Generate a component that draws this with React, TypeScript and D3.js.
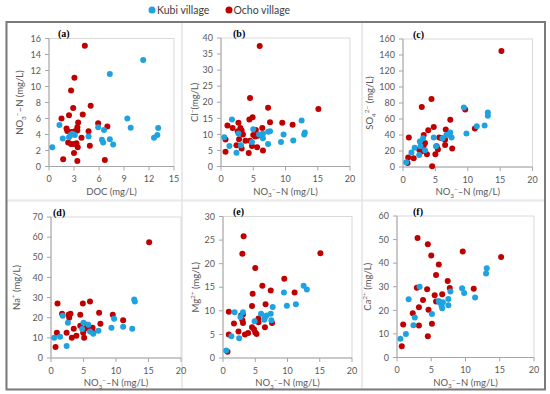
import React from "react";
import * as d3 from "d3";

// colours of the two villages
const BLUE = "#1fa3e0";
const RED = "#c00000";
const GREY = "#595959";

// (a) DOC vs NO3-N
const kubiA = [[0.4,2.4],[1.25,5.2],[1.65,3.5],[2.4,3.65],[2.6,3.95],[2.8,4.1],[3.1,3.95],[4.75,3.75],[5.9,4.9],[6.35,3.35],[6.5,3.0],[6.6,4.55],[7.3,3.4],[7.3,11.55],[7.7,2.75],[9.4,6.0],[9.8,4.85],[11.3,13.3],[12.6,3.6],[13.0,3.95],[13.1,4.8]];
const ochoA = [[4.3,15.1],[3.05,11.1],[2.65,9.5],[2.9,7.3],[5.0,7.6],[4.05,6.5],[2.4,6.4],[1.5,6.0],[3.5,5.5],[5.9,5.4],[7.0,5.0],[2.1,4.75],[3.4,4.9],[2.2,4.45],[2.7,4.3],[3.1,4.4],[3.4,4.5],[4.75,4.4],[3.9,3.6],[2.3,3.0],[2.65,2.8],[3.0,2.8],[3.3,2.9],[3.45,2.4],[4.9,2.6],[3.0,1.7],[1.7,0.9],[3.4,0.7],[6.7,0.8]];

// (b) NO3-N vs Cl-
const kubiB = [[0.5,9.1],[1.7,14.6],[1.3,6.4],[2.4,4.3],[3.1,6.6],[2.7,10.3],[5.0,11.6],[5.9,10.0],[6.3,9.9],[6.5,8.8],[6.5,10.2],[7.3,10.8],[7.6,11.0],[7.3,7.0],[9.3,7.6],[9.7,10.0],[11.2,8.1],[12.5,14.3],[12.9,10.0],[13.0,10.6],[4.8,7.6]];
const ochoB = [[6.0,37.5],[4.5,21.3],[7.3,18.3],[15.1,17.9],[4.4,14.6],[4.9,15.3],[7.6,13.8],[9.5,13.6],[11.1,13.0],[1.0,12.8],[1.8,12.0],[2.7,13.6],[3.0,12.0],[2.6,11.0],[3.2,11.2],[3.4,10.0],[5.4,11.4],[6.4,12.0],[0.7,8.4],[2.8,8.5],[3.8,8.0],[4.5,8.0],[5.0,9.8],[5.3,9.3],[5.7,9.6],[2.4,6.6],[3.2,5.6],[4.8,6.4],[5.6,6.0],[6.5,5.0],[0.7,4.6],[4.3,4.2]];

// (c) NO3-N vs SO4 2-
const kubiC = [[0.5,6],[1.3,18],[1.8,24],[2.5,15],[2.7,26],[2.6,32],[3.1,36],[3.4,21],[4.75,37],[5.1,26],[6.1,36],[6.7,40],[7.3,43],[7.2,40],[7.5,37],[9.4,74.5],[9.8,42],[11.4,51],[12.6,52],[13.1,68],[13.1,64]];
const ochoC = [[15.2,145],[4.4,85],[2.9,75],[9.6,72],[7.3,59],[4.75,50],[3.9,46],[6.6,47],[11.1,48],[0.9,37],[3.2,40],[5.6,37],[6.0,36],[6.5,34],[3.4,30],[2.5,22],[2.8,25],[3.0,20],[3.2,27],[2.7,19],[6.5,27.5],[5.2,26],[7.6,23],[3.7,16],[5.0,16],[5.4,22],[1.65,11],[0.8,12],[0.7,5],[4.5,1]];

// (d) NO3-N vs Na+
const kubiD = [[0.5,10],[1.4,10.5],[1.8,21],[2.6,17.5],[2.4,6],[5.0,17.5],[5.75,16.5],[4.8,14.4],[6.5,12],[7.3,13.5],[9.3,15],[9.7,19.5],[11.1,15.5],[12.5,14.5],[12.8,29],[12.9,28],[6.0,13.2]];
const ochoD = [[15.1,57.5],[1.0,27],[4.9,27],[6.0,28],[1.7,22],[2.7,21.5],[3.0,22],[2.8,20],[4.5,21.5],[7.4,22.5],[9.5,21.5],[11.1,18.8],[7.6,17],[0.9,12.5],[2.4,12.5],[3.2,10],[3.5,14.5],[3.9,11],[4.5,16],[4.95,12.5],[5.1,10],[5.6,16.5],[5.75,15],[6.4,15],[6.5,12.5],[5.2,14.5],[0.7,5.5]];

// (e) NO3-N vs Mg2+
const kubiE = [[0.5,1.6],[1.3,4.6],[1.8,9.7],[2.5,4.2],[3.1,9.7],[2.7,8.7],[4.9,7.8],[5.9,9.4],[6.5,8.6],[6.75,9.0],[6.4,8.1],[7.5,8.0],[7.4,9.4],[7.7,10.8],[9.45,13.9],[9.9,11.1],[11.3,11.4],[12.5,15.3],[13.0,14.5]];
const ochoE = [[3.2,25.8],[3.0,22.1],[15.1,22.2],[5.0,19.1],[9.5,16.8],[6.1,15.3],[7.4,14.3],[11.1,13.9],[4.6,13.6],[6.6,11.4],[4.5,11.0],[0.9,9.8],[2.8,9.0],[3.0,8.0],[3.1,9.2],[1.7,7.3],[3.1,7.4],[5.5,8.4],[5.5,7.6],[7.6,7.4],[2.4,5.6],[0.9,5.0],[3.4,5.0],[3.9,5.3],[4.5,6.5],[4.8,6.1],[5.0,5.4],[5.2,5.1],[6.5,6.5],[0.7,1.3]];

// (f) NO3-N vs Ca2+
const kubiF = [[0.5,8],[1.3,10],[1.7,24.7],[2.6,17],[2.4,13.7],[3.3,30],[5.1,18.4],[6.1,24],[6.2,23.4],[6.7,23.4],[6.5,21.9],[6.6,20.9],[7.5,22.2],[7.5,24.8],[7.8,28],[9.5,29.4],[9.8,27.4],[11.4,25.4],[13.1,37.8],[13.0,35.6]];
const ochoF = [[3.0,50.7],[4.5,48],[5.0,43.2],[9.6,44.9],[15.2,42.6],[6.1,39.4],[5.7,35],[7.4,32.4],[7.7,29.5],[2.9,29.6],[4.4,28.9],[11.2,29.1],[6.6,26.8],[3.8,24.4],[5.5,26.4],[5.7,23.7],[3.2,21.3],[4.6,20.3],[2.3,18.8],[5.1,14.3],[0.9,14],[3.2,13.6],[4.5,9],[0.7,4.8]];

// tick labels
const ticks0to15 = [0, 3, 6, 9, 12, 15];
const ticks0to20 = [0, 5, 10, 15, 20];
const yTicksA = [0, 2, 4, 6, 8, 10, 12, 14, 16];
const yTicksB = [0, 5, 10, 15, 20, 25, 30, 35, 40];
const yTicksC = [0, 20, 40, 60, 80, 100, 120, 140, 160];
const yTicksD = [0, 10, 20, 30, 40, 50, 60, 70];
const yTicksE = [0, 5, 10, 15, 20, 25, 30];
const yTicksF = [0, 10, 20, 30, 40, 50, 60];

const legendNames = ["Kubi village", "Ocho village"];
const panelLabels = ["(a)", "(b)", "(c)", "(d)", "(e)", "(f)"];

// segments: [text, 0 normal | 1 sub | -1 sup]
const no3Title = [["NO", 0], ["3", 1], ["\u2212", -1], ["\u2013N (mg/L)", 0]];
const docTitle = [["DOC (mg/L)", 0]];
const yTitles = [
  no3Title,
  [["Cl", 0], ["\u2212", -1], ["(mg/L)", 0]],
  [["SO", 0], ["4", 1], ["2\u2212", -1], [" (mg/L)", 0]],
  [["Na", 0], ["+", -1], [" (mg/L)", 0]],
  [["Mg", 0], ["2+", -1], [" (mg/L)", 0]],
  [["Ca", 0], ["2+", -1], [" (mg/L)", 0]],
];

const panels = [
  { kubi: kubiA, ocho: ochoA, xt: ticks0to15, yt: yTicksA, xTitle: docTitle },
  { kubi: kubiB, ocho: ochoB, xt: ticks0to20, yt: yTicksB, xTitle: no3Title },
  { kubi: kubiC, ocho: ochoC, xt: ticks0to20, yt: yTicksC, xTitle: no3Title },
  { kubi: kubiD, ocho: ochoD, xt: ticks0to20, yt: yTicksD, xTitle: no3Title },
  { kubi: kubiE, ocho: ochoE, xt: ticks0to20, yt: yTicksE, xTitle: no3Title },
  { kubi: kubiF, ocho: ochoF, xt: ticks0to20, yt: yTicksF, xTitle: no3Title },
];

// plot boxes measured on the picture
const boxes = [
  { l: 49, r: 174, t: 38.5, b: 166.5, ytx: 20, lx: 58 },
  { l: 221, r: 350, t: 38, b: 166.5, ytx: 195, lx: 233 },
  { l: 403, r: 532.5, t: 39, b: 167, ytx: 370, lx: 413 },
  { l: 51, r: 181, t: 217, b: 358, ytx: 17, lx: 53 },
  { l: 223, r: 352, t: 216.5, b: 358, ytx: 196, lx: 233 },
  { l: 397, r: 534, t: 216, b: 357.5, ytx: 368, lx: 413 },
];

const FONT = "Lato, 'Open Sans', sans-serif";

const Rich = ({ segs, size }: { segs: any[]; size: number }) => {
  let cur = 0;
  return (
    <>
      {segs.map(([t, m]: [string, number], i: number) => {
        const target = m === 1 ? size * 0.3 : m === -1 ? -size * 0.4 : 0;
        const dy = target - cur;
        cur = target;
        return (
          <tspan key={i} dy={dy} fontSize={m ? size * 0.68 : size}>
            {t}
          </tspan>
        );
      })}
    </>
  );
};

const Panel = ({ i }: { i: number }) => {
  const p = panels[i];
  const bx = boxes[i];
  const x = d3.scaleLinear().domain([p.xt[0], p.xt[p.xt.length - 1]]).range([bx.l, bx.r]);
  const y = d3.scaleLinear().domain([p.yt[0], p.yt[p.yt.length - 1]]).range([bx.b, bx.t]);
  return (
    <g>
      <rect x={bx.l} y={bx.t} width={bx.r - bx.l} height={bx.b - bx.t} fill="none" stroke="#d9d9d9" strokeWidth={1} />
      <line x1={bx.l} x2={bx.l} y1={bx.t} y2={bx.b} stroke="#a6a6a6" />
      <line x1={bx.l} x2={bx.r} y1={bx.b} y2={bx.b} stroke="#a6a6a6" />
      {p.yt.map((v) => (
        <g key={"y" + v}>
          <line x1={bx.l - 4} x2={bx.l} y1={y(v)} y2={y(v)} stroke="#a6a6a6" />
          <text x={bx.l - 8} y={y(v) + 3.2} textAnchor="end" fontSize={9} fill={GREY}>
            {v}
          </text>
        </g>
      ))}
      {p.xt.map((v) => (
        <g key={"x" + v}>
          <line x1={x(v)} x2={x(v)} y1={bx.b} y2={bx.b + 4} stroke="#a6a6a6" />
          <text x={x(v)} y={bx.b + 15.5} textAnchor="middle" fontSize={9} fill={GREY}>
            {v}
          </text>
        </g>
      ))}
      <text x={(bx.l + bx.r) / 2} y={bx.b + 28} textAnchor="middle" fill={GREY} fontSize={9.5}>
        <Rich segs={p.xTitle} size={9.5} />
      </text>
      <text transform={`translate(${bx.ytx + 3},${(bx.t + bx.b) / 2}) rotate(-90)`} textAnchor="middle" fill={GREY} fontSize={9.5}>
        <Rich segs={yTitles[i]} size={9.5} />
      </text>
      <text x={bx.lx} y={bx.t - 1.5} fontFamily="'Liberation Serif', serif" fontWeight="bold" fontSize={10} fill="#000">
        {panelLabels[i]}
      </text>
      {p.ocho.map((d, k) => (
        <circle key={"o" + k} cx={x(d[0])} cy={y(d[1])} r={3} fill={RED} />
      ))}
      {p.kubi.map((d, k) => (
        <circle key={"k" + k} cx={x(d[0])} cy={y(d[1])} r={3} fill={BLUE} />
      ))}
    </g>
  );
};

export default function App() {
  return (
    <svg width={550} height={394} style={{ display: "block", position: "absolute", left: 0, top: 0 }} fontFamily={FONT}>
      <rect width={550} height={394} fill="#fff" />
      {/* chart area borders */}
      {[6, 182, 362].map((cx, k) => (
        <g key={k}>
          <rect x={cx} y={22} width={(k === 2 ? 545 : [182, 362][k]) - cx} height={178} fill="none" stroke="#e3e3e3" />
          <rect x={cx} y={201} width={(k === 2 ? 545 : [182, 362][k]) - cx} height={188} fill="none" stroke="#e3e3e3" />
        </g>
      ))}
      <rect x={6.5} y={22} width={538.5} height={367.5} fill="none" stroke="#7a7a7a" strokeWidth={2} />
      {/* legend */}
      {legendNames.map((n, k) => (
        <g key={n}>
          <circle cx={k === 0 ? 152 : 229} cy={10} r={3.5} fill={k === 0 ? BLUE : RED} />
          <text x={k === 0 ? 157 : 233.5} y={13.5} fontSize={10.5} fill="#404040">
            {n}
          </text>
        </g>
      ))}
      {panels.map((_, i) => (
        <Panel key={i} i={i} />
      ))}
    </svg>
  );
}
